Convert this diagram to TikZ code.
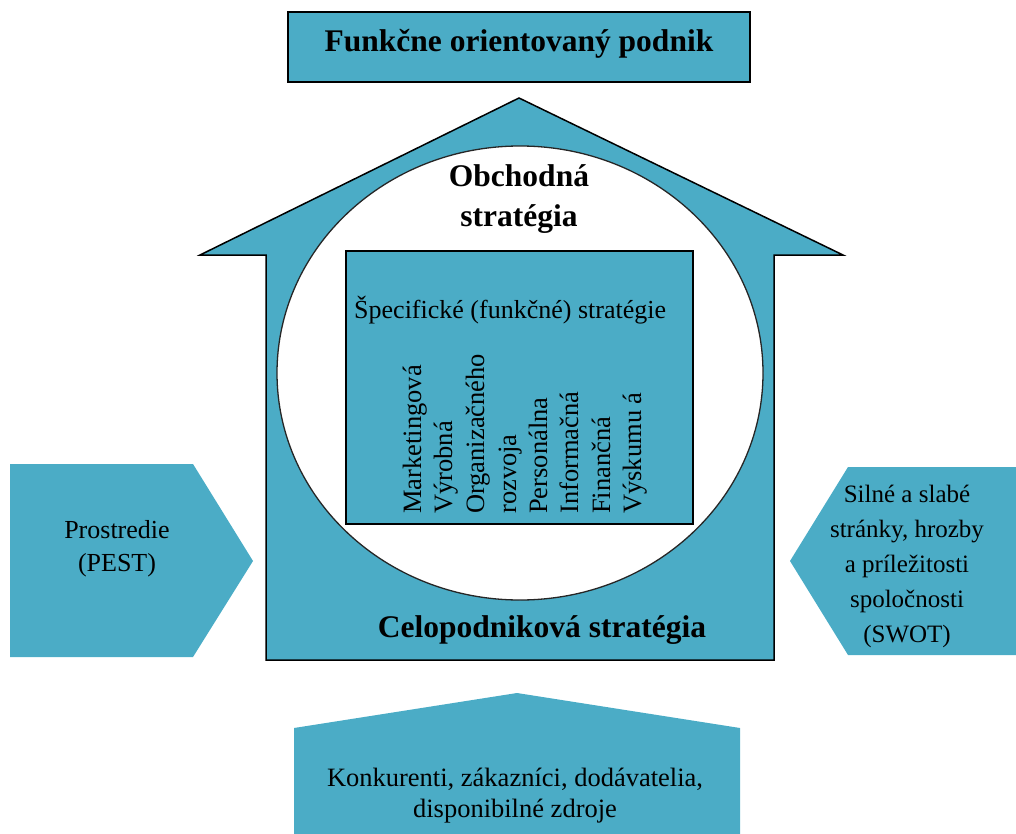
\documentclass[tikz,border=0pt]{standalone}
\usepackage{fontspec}
\setmainfont{Liberation Serif}
\definecolor{tealfill}{HTML}{4BACC6}
\begin{document}
\begin{tikzpicture}[x=1pt,y=-1pt,
  outl/.style={draw=black, line width=1.5pt},
  reg/.style={font=\fontsize{26}{33}\selectfont, align=center, inner sep=0pt},
  boldtxt/.style={font=\fontsize{31.5}{40}\selectfont\bfseries, align=center, inner sep=0pt},
  vert/.style={rotate=90, anchor=base west, inner sep=0pt, font=\fontsize{26.5}{30}\selectfont},
  arrowshape/.style={fill=tealfill, draw=none}]
\useasboundingbox (0,0) rectangle (1016,834);

% side and bottom arrows
\fill[arrowshape] (10,464) -- (193,464) -- (253,561) -- (193,657) -- (10,657) -- cycle;
\fill[arrowshape] (1016,467) -- (848,467) -- (790,561) -- (848,655) -- (1016,655) -- cycle;
\fill[arrowshape] (294,834) -- (294,728) -- (517,693) -- (740,728) -- (740,834) -- cycle;

% house
\draw[outl, fill=tealfill, line join=miter] (519,98) -- (843,255) -- (774,255) -- (774,660) -- (266,660) -- (266,255) -- (200,255) -- cycle;
\draw[line width=1.3pt, draw=black!85, fill=white] (520,373) ellipse [x radius=243, y radius=227];

% top box
\node[outl, fill=tealfill, minimum width=462pt, minimum height=70pt, inner sep=0pt] (top) at (519,47) {};
\node[boldtxt] (toptxt) at (519,44) {Funkčne orientovaný podnik};

% inner box
\node[outl, fill=tealfill, minimum width=347pt, minimum height=273pt, inner sep=0pt] (spec) at (519.5,387.5) {};
\node[reg, anchor=base west] (spectitle) at (354,318) {Špecifické (funkčné) stratégie};

\node[vert] (v1) at (421,514) {Marketingová};
\node[vert] (v2) at (452,514) {Výrobná};
\node[vert] (v3) at (484,514) {Organizačného};
\node[vert] (v4) at (516,514) {rozvoja};
\node[vert] (v5) at (547,514) {Personálna};
\node[vert] (v6) at (578,514) {Informačná};
\node[vert] (v7) at (610,514) {Finančná};
\node[vert] (v8) at (641,514) {Výskumu á};

% labels
\node[boldtxt] (obch) at (519,199) {Obchodná\\stratégia};
\node[boldtxt] (celo) at (542,630) {Celopodniková stratégia};
\node[reg] (pest) at (117,549) {Prostredie\\(PEST)};
\node[reg, font=\fontsize{25}{35}\selectfont] (swot) at (907,566) {Silné a slabé\\stránky, hrozby\\a príležitosti\\spoločnosti\\(SWOT)};
\node[reg, font=\fontsize{26.5}{31}\selectfont] (konk) at (515,796) {Konkurenti, zákazníci, dodávatelia,\\disponibilné zdroje};
\end{tikzpicture}
\end{document}
